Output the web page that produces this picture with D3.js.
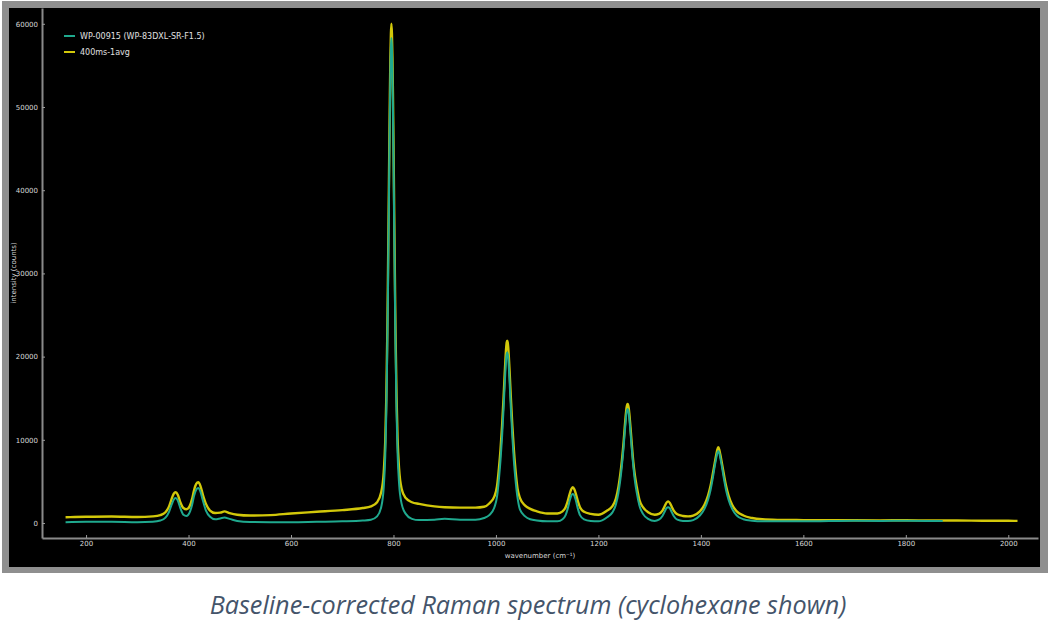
<!DOCTYPE html>
<html>
<head>
<meta charset="utf-8">
<script src="https://cdn.jsdelivr.net/npm/d3@7"></script>
<style>
  html, body { margin: 0; padding: 0; background: #ffffff; }
  svg { display: block; }
</style>
</head>
<body>
<svg id="chart" width="1056" height="628"></svg>
<script>
// ---- data: [wavenumber, intensity] ----
const seriesNames = ["WP-00915 (WP-83DXL-SR-F1.5)", "400ms-1avg"];

const yellowPoints = [[160,700],[200,750],[250,780],[300,720],[330,800],[345,950],[355,1300],[362,2000],[367,2900],[371,3500],[375,3700],[379,3400],[384,2500],[390,1800],[396,1650],[402,2000],[407,2900],[411,4000],[415,4700],[419,4900],[423,4500],[428,3400],[434,2300],[442,1500],[452,1200],[462,1250],[470,1400],[480,1200],[495,1000],[520,900],[560,950],[600,1150],[650,1350],[700,1550],[740,1800],[756,2000],[768,2500],[776,3700],[781,6100],[784,9900],[786,15000],[788,23000],[789,28300],[790,34000],[791,40000],[792,46000],[793,51500],[794,56000],[795,58800],[796,60000],[797,58800],[798,56000],[799,51500],[800,46000],[801,40000],[802,34000],[803,28300],[804,23000],[806,15200],[808,10200],[811,6500],[816,4100],[824,3000],[836,2500],[850,2300],[880,2000],[900,1900],[930,1850],[960,1850],[977,1950],[987,2350],[997,3200],[1002,4400],[1006,6700],[1009,8900],[1012,11700],[1015,15200],[1017,17800],[1019,20200],[1020,21100],[1021,21700],[1022,21900],[1023,21700],[1024,21100],[1025,20200],[1027,17800],[1029,15200],[1032,11700],[1035,8800],[1038,6500],[1042,4200],[1047,3000],[1057,2100],[1067,1700],[1080,1400],[1100,1150],[1120,1150],[1130,1400],[1136,1900],[1140,2600],[1144,3500],[1147,4050],[1150,4300],[1153,4050],[1156,3500],[1160,2600],[1164,1900],[1172,1350],[1185,1100],[1200,1000],[1217,1500],[1227,2000],[1234,2900],[1239,4300],[1243,6000],[1246,7600],[1249,9600],[1251,11200],[1253,12700],[1255,13900],[1257,14300],[1259,13900],[1261,12700],[1263,11200],[1265,9600],[1268,7400],[1271,5800],[1275,4300],[1280,2800],[1287,1900],[1297,1300],[1310,1000],[1318,1100],[1325,1500],[1330,2100],[1333,2450],[1336,2600],[1339,2450],[1342,2100],[1347,1500],[1354,1050],[1365,850],[1375,800],[1385,900],[1398,1400],[1407,2200],[1414,3300],[1419,4500],[1423,5800],[1427,7200],[1430,8200],[1432,8800],[1434,9100],[1436,8800],[1438,8200],[1441,7200],[1445,5800],[1449,4500],[1454,3300],[1461,2200],[1470,1400],[1483,900],[1500,600],[1520,450],[1550,380],[1600,350],[1650,330],[1700,330],[1750,320],[1800,330],[1850,300],[1900,300],[1950,280],[2000,270],[2018,260]];

const tealPoints = [[160,100],[200,150],[250,150],[300,100],[330,150],[345,300],[355,650],[362,1350],[367,2200],[371,2800],[375,3000],[379,2700],[384,1800],[390,1000],[396,850],[402,1250],[407,2200],[411,3300],[415,4000],[419,4200],[423,3800],[428,2700],[434,1500],[442,750],[452,450],[462,550],[470,650],[480,500],[495,250],[520,120],[560,100],[600,100],[650,150],[700,200],[740,300],[756,400],[768,800],[776,1900],[781,4300],[784,8100],[786,13200],[788,21200],[789,26500],[790,32200],[791,38200],[792,44200],[793,49700],[794,54200],[795,57100],[796,58300],[797,57100],[798,54200],[799,49700],[800,44200],[801,38200],[802,32200],[803,26500],[804,21200],[806,13400],[808,8400],[811,4700],[816,2300],[824,1100],[836,500],[850,350],[880,400],[900,500],[930,400],[960,400],[977,600],[987,950],[997,1900],[1002,3100],[1006,5400],[1009,7600],[1012,10400],[1015,13900],[1017,16500],[1019,18900],[1020,19800],[1021,20300],[1022,20500],[1023,20300],[1024,19800],[1025,18900],[1027,16500],[1029,13900],[1032,10400],[1035,7500],[1038,5300],[1042,3100],[1047,1600],[1057,800],[1067,450],[1080,300],[1100,200],[1120,200],[1130,450],[1136,950],[1140,1700],[1144,2700],[1147,3300],[1150,3500],[1153,3300],[1156,2700],[1160,1700],[1164,950],[1172,450],[1185,250],[1200,200],[1217,700],[1227,1250],[1234,2200],[1239,3600],[1243,5300],[1246,7000],[1249,9000],[1251,10600],[1253,12100],[1255,13300],[1257,13700],[1259,13300],[1261,12100],[1263,10600],[1265,9000],[1268,6900],[1271,5200],[1275,3600],[1280,2100],[1287,1100],[1297,500],[1310,250],[1318,400],[1325,850],[1330,1450],[1333,1800],[1336,1900],[1339,1800],[1342,1450],[1347,850],[1354,400],[1365,250],[1375,250],[1385,350],[1398,900],[1407,1700],[1414,2800],[1419,4000],[1423,5300],[1427,6800],[1430,7800],[1432,8400],[1434,8650],[1436,8400],[1438,7800],[1441,6800],[1445,5300],[1449,4000],[1454,2800],[1461,1700],[1470,900],[1483,450],[1500,280],[1520,200],[1550,200],[1600,200],[1650,230],[1700,260],[1750,240],[1800,280],[1850,250],[1872,230]];

const xTicks = [200,400,600,800,1000,1200,1400,1600,1800,2000];
const yTicks = [0,10000,20000,30000,40000,50000,60000];
const xTitle = "wavenumber (cm\u207B\u00B9)";
const yTitle = "intensity (counts)";
const caption = "Baseline-corrected Raman spectrum (cyclohexane shown)";

// ---- drawing ----
const svg = d3.select("#chart");
const tealColor = "#1fa98e";
const yellowColor = "#d2c80a";

// frame
svg.append("rect").attr("x", 2).attr("y", 1).attr("width", 1046).attr("height", 572).attr("fill", "#8f8f8f");
svg.append("rect").attr("x", 9).attr("y", 8).attr("width", 1031).attr("height", 559).attr("fill", "#000000");

const x = d3.scaleLinear().domain([114, 2058]).range([42, 1038]);
const y = d3.scaleLinear().domain([-1800, 61900]).range([538, 8]);

// axes
const xAxis = svg.append("g").attr("transform", "translate(0,538)")
  .call(d3.axisBottom(x).tickValues(xTicks).tickFormat(d3.format("d")).tickSizeInner(-3).tickSizeOuter(0).tickPadding(3));
const yAxis = svg.append("g").attr("transform", "translate(42,0)")
  .call(d3.axisLeft(y).tickValues(yTicks).tickFormat(d3.format("d")).tickSizeInner(-3).tickSizeOuter(0).tickPadding(4));

[xAxis, yAxis].forEach(g => {
  g.select(".domain").attr("stroke", "#8a8a8a").attr("stroke-width", 2);
  g.selectAll(".tick line").attr("stroke", "#9a9a9a").attr("stroke-width", 1);
  g.selectAll(".tick text").attr("fill", "#d8d8d8").style("font-family", "DejaVu Sans, sans-serif").style("font-size", "7px");
});

svg.append("text").attr("x", 540).attr("y", 558)
  .attr("text-anchor", "middle").attr("fill", "#d8d8d8")
  .style("font-family", "DejaVu Sans, sans-serif").style("font-size", "7px").text(xTitle);
svg.append("text").attr("transform", "translate(16,273) rotate(-90)")
  .attr("text-anchor", "middle").attr("fill", "#d8d8d8")
  .style("font-family", "DejaVu Sans, sans-serif").style("font-size", "7px").text(yTitle);

// lines
const clip = svg.append("clipPath").attr("id", "plotclip");
clip.append("rect").attr("x", 43).attr("y", 8).attr("width", 996).attr("height", 529);

const line = d3.line().x(d => x(d[0])).y(d => y(d[1])).curve(d3.curveMonotoneX);

const plot = svg.append("g").attr("clip-path", "url(#plotclip)");
plot.append("path").datum(yellowPoints).attr("d", line)
  .attr("fill", "none").attr("stroke", yellowColor).attr("stroke-width", 2.4).attr("stroke-linejoin", "round");
plot.append("path").datum(tealPoints).attr("d", line)
  .attr("fill", "none").attr("stroke", tealColor).attr("stroke-width", 2).attr("stroke-linejoin", "round");

// legend
const legend = svg.append("g");
const legendColors = [tealColor, yellowColor];
seriesNames.forEach((name, i) => {
  const ly = 36 + i * 16;
  legend.append("line").attr("x1", 64).attr("x2", 75).attr("y1", ly).attr("y2", ly)
    .attr("stroke", legendColors[i]).attr("stroke-width", 2);
  legend.append("text").attr("x", 80).attr("y", ly).attr("dy", "0.35em")
    .attr("fill", "#e0e0e0").style("font-family", "DejaVu Sans, sans-serif").style("font-size", "8px").text(name);
});

// caption
const cap = svg.append("text").attr("x", 528).attr("y", 614)
  .attr("text-anchor", "middle").attr("fill", "#44546a")
  .style("font-family", "'Open Sans', sans-serif").style("font-style", "italic").style("font-size", "22px")
  .text(caption);
const w = cap.node().getComputedTextLength();
cap.style("font-size", (22 * 637 / w).toFixed(2) + "px");
</script>
</body>
</html>
